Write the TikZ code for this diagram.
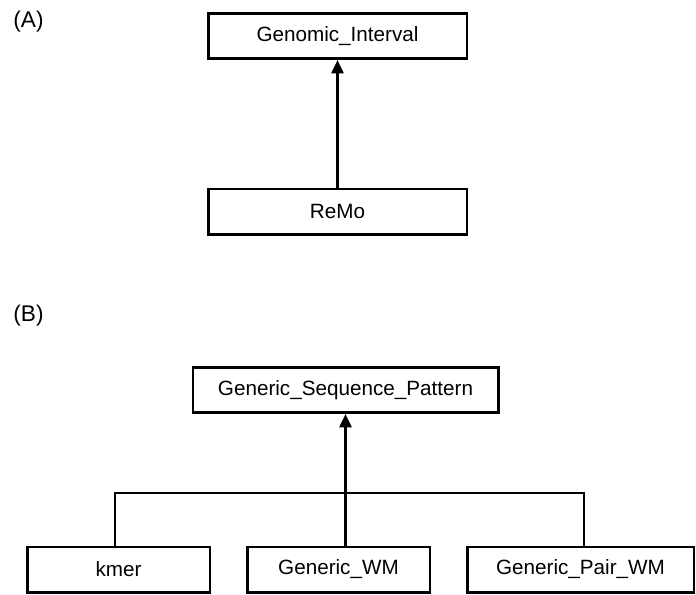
\documentclass[tikz,border=0pt]{standalone}
\usepackage{fontspec}
\setmainfont{Liberation Sans}
\usetikzlibrary{arrows.meta}

\tikzset{every picture/.style={line width=2pt}}
\tikzset{classbox/.style={draw, rectangle, line width=2pt, minimum height=34pt, inner sep=0pt, font=\fontsize{15.5}{18}\selectfont}}
\tikzset{panel/.style={anchor=north west, inner sep=0pt, font=\fontsize{17}{20}\selectfont}}
\tikzset{inherit/.style={line width=2pt, -{Triangle[length=10pt,width=9pt]}}}
\tikzset{tree/.style={line width=2pt}}

\begin{document}
\begin{tikzpicture}[x=0.75pt,y=0.75pt,yscale=-1,xscale=1]
	\useasboundingbox (0,0) rectangle (696,594);

	% Panel labels
	\node[panel] (labA) at (12,10) {(A)};
	\node[panel] (labB) at (12,304) {(B)};

	% (A) boxes
	\node[classbox, minimum width=194pt] (gi) at (337.5,36) {Genomic\_Interval};
	\node[classbox, minimum width=194pt] (remo) at (337.5,211.5) {ReMo};
	% (A) arrow
	\draw[inherit] (remo.north) -- (gi.south);

	% (B) boxes
	\node[classbox, minimum width=229pt] (gsp) at (345.5,390) {Generic\_Sequence\_Pattern};
	\node[classbox, minimum width=137pt] (kmer) at (118.5,569.5) {kmer};
	\node[classbox, minimum width=137pt] (gwm) at (338.5,569.5) {Generic\_WM};
	\node[classbox, minimum width=170pt] (gpwm) at (580.5,569.5) {Generic\_Pair\_WM};

	% (B) tree
	\coordinate (bar) at (345.5,493);
	\draw[tree] ([xshift=-2.6pt]kmer.north) |- (bar) -| ([xshift=2.6pt]gpwm.north);
	\draw[inherit] (gwm.north -| gsp.south) -- (gsp.south);

\end{tikzpicture}
\end{document}
